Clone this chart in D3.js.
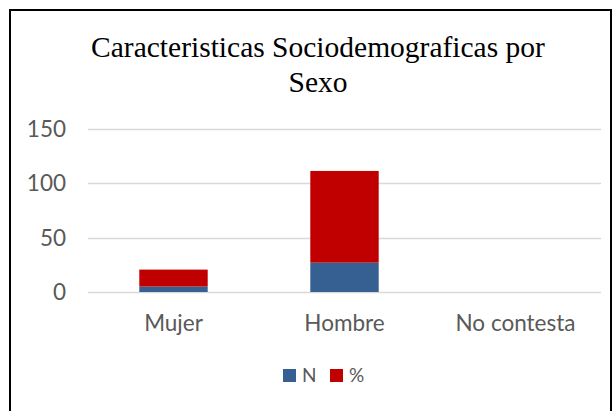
<!DOCTYPE html>
<html>
<head>
<meta charset="utf-8">
<script src="https://cdn.jsdelivr.net/npm/d3@7"></script>
<style>
  body { margin: 0; background: #fff; }
  svg { display: block; }
</style>
</head>
<body>
<div id="chart"></div>
<script>
// chart data
const categories = ["Mujer", "Hombre", "No contesta"];
const seriesNames = ["N", "%"];
const valuesN = [5, 27, 0];
const valuesPct = [15.6, 84.4, 0];
const yTicks = [0, 50, 100, 150];
const titleLines = ["Caracteristicas Sociodemograficas por", "Sexo"];

const width = 613, height = 411;
const colors = { "N": "#376092", "%": "#C00000" };
const labelFont = "Lato, Carlito, 'Open Sans', sans-serif";

const svg = d3.select("#chart").append("svg")
    .attr("width", width)
    .attr("height", height);

// outer frame
svg.append("path")
    .attr("d", "M10,411 L10,10 L611,10 L611,411")
    .attr("fill", "none")
    .attr("stroke", "#000")
    .attr("stroke-width", 2);

// title
svg.append("g").selectAll("text")
    .data(titleLines)
    .enter().append("text")
    .attr("x", 318)
    .attr("y", (d, i) => 57 + i * 35)
    .attr("text-anchor", "middle")
    .style("font-family", "'Liberation Serif', 'Times New Roman', serif")
    .style("font-size", "29.5px")
    .style("fill", "#000")
    .text(d => d);

// build stacked rows
const rows = categories.map((c, i) => ({ cat: c, "N": valuesN[i], "%": valuesPct[i] }));
const stacked = d3.stack().keys(seriesNames)(rows);

const x = d3.scaleBand()
    .domain(categories)
    .range([88, 601])
    .paddingInner(0.6)
    .paddingOuter(0.3);

const y = d3.scaleLinear()
    .domain([0, 150])
    .range([292, 129]);

// gridlines
svg.append("g").selectAll("line")
    .data(yTicks)
    .enter().append("line")
    .attr("x1", 88)
    .attr("x2", 601)
    .attr("y1", d => Math.round(y(d)) + 0.5)
    .attr("y2", d => Math.round(y(d)) + 0.5)
    .attr("stroke", "#D9D9D9")
    .attr("stroke-width", 1.3);

// y tick labels
svg.append("g").selectAll("text")
    .data(yTicks)
    .enter().append("text")
    .attr("x", 66)
    .attr("y", d => y(d))
    .attr("dy", "0.36em")
    .attr("text-anchor", "end")
    .style("font-family", labelFont)
    .style("font-size", "22.5px")
    .style("fill", "#595959")
    .text(d => d);

// bars
svg.append("g").selectAll("g")
    .data(stacked)
    .enter().append("g")
    .attr("fill", d => colors[d.key])
    .selectAll("rect")
    .data(d => d)
    .enter().append("rect")
    .attr("x", d => x(d.data.cat))
    .attr("width", x.bandwidth())
    .attr("y", d => y(d[1]))
    .attr("height", d => y(d[0]) - y(d[1]));

// category labels
svg.append("g").selectAll("text")
    .data(categories)
    .enter().append("text")
    .attr("x", d => x(d) + x.bandwidth() / 2)
    .attr("y", 331)
    .attr("text-anchor", "middle")
    .style("font-family", labelFont)
    .style("font-size", "22.5px")
    .style("fill", "#595959")
    .text(d => d);

// legend
const legend = svg.append("g").attr("transform", "translate(283,369)");
const legendX = [0, 47];
const items = legend.selectAll("g")
    .data(seriesNames)
    .enter().append("g")
    .attr("transform", (d, i) => "translate(" + legendX[i] + ",0)");
items.append("rect")
    .attr("width", 13)
    .attr("height", 13)
    .attr("fill", d => colors[d]);
items.append("text")
    .attr("x", 19)
    .attr("y", 13)
    .style("font-family", labelFont)
    .style("font-size", "19px")
    .style("fill", "#595959")
    .text(d => d);
</script>
</body>
</html>
